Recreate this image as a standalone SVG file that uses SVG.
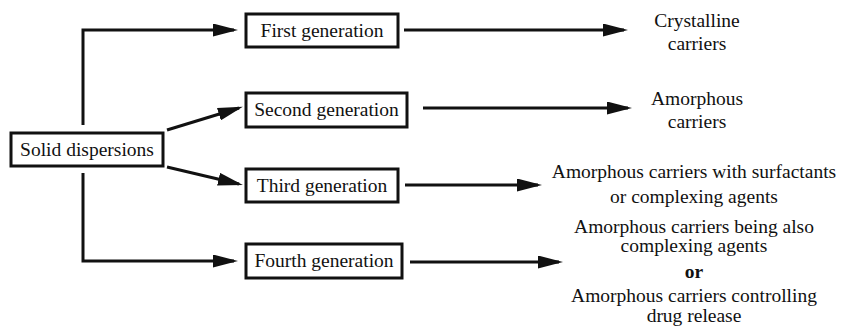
<svg xmlns="http://www.w3.org/2000/svg" width="842" height="332" viewBox="0 0 842 332">
<style>
.box{fill:#fff;stroke:#111;stroke-width:3}
.t{font-family:"Liberation Serif","Times New Roman",serif;font-size:19.5px;fill:#111;text-anchor:middle}
.c{fill:none;stroke:#111;stroke-width:3;marker-end:url(#ah)}
</style>
<defs>
<marker id="ah" markerUnits="userSpaceOnUse" markerWidth="25" markerHeight="13" refX="21" refY="6.5" orient="auto">
<path d="M0,0 L25,6.5 L0,13 Z" fill="#111"/>
</marker>
</defs>
<rect width="842" height="332" fill="#fff"/>
<g id="connectors">
<path class="c" d="M83,125 V30 H234"/>
<path class="c" d="M83,173 V261 H234"/>
<path class="c" d="M167,130 L239,108"/>
<path class="c" d="M167,167 L239,184"/>
<path class="c" d="M404,30 H624"/>
<path class="c" d="M423,108 H628"/>
<path class="c" d="M405,185 H538"/>
<path class="c" d="M410,262 H559"/>
</g>
<g id="solid"><rect class="box" x="11" y="133" width="152" height="33"/><text class="t" x="87" y="156">Solid dispersions</text></g>
<g id="first"><rect class="box" x="246" y="14" width="152" height="33"/><text class="t" x="322" y="37">First generation</text></g>
<g id="second"><rect class="box" x="246" y="93" width="161" height="34"/><text class="t" x="326.5" y="116">Second generation</text></g>
<g id="third"><rect class="box" x="246" y="169" width="152" height="33"/><text class="t" x="322" y="192">Third generation</text></g>
<g id="fourth"><rect class="box" x="246" y="244" width="156" height="34"/><text class="t" x="324" y="267">Fourth generation</text></g>
<g id="crystalline"><text class="t" x="697" y="27">Crystalline</text><text class="t" x="697" y="50">carriers</text></g>
<g id="amorphous"><text class="t" x="697" y="105">Amorphous</text><text class="t" x="697" y="128">carriers</text></g>
<g id="surfactants"><text class="t" x="694" y="178">Amorphous carriers with surfactants</text><text class="t" x="694" y="203">or complexing agents</text></g>
<g id="complexing"><text class="t" x="694" y="233">Amorphous carriers being also</text><text class="t" x="694" y="252">complexing agents</text><text class="t" x="694" y="278" font-weight="bold">or</text><text class="t" x="694" y="302">Amorphous carriers controlling</text><text class="t" x="694" y="322">drug release</text></g>
</svg>
